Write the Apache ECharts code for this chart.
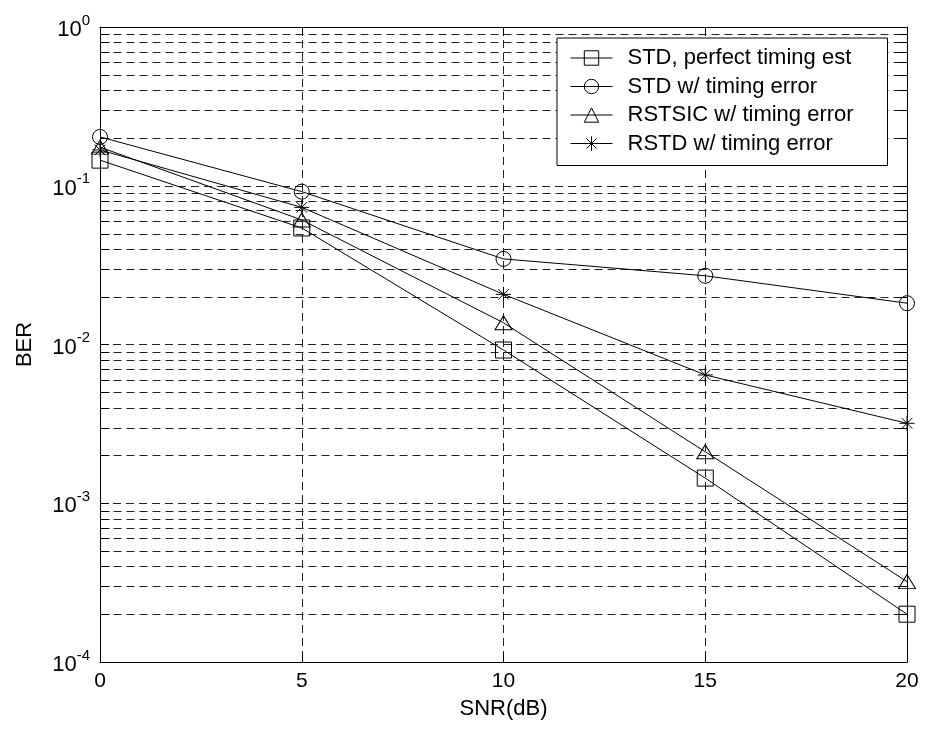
<!DOCTYPE html>
<html>
<head>
<meta charset="utf-8">
<script src="https://cdn.jsdelivr.net/npm/echarts@6/dist/echarts.min.js"></script>
<style>html,body{margin:0;padding:0;background:#fff}#c{width:925px;height:731px}</style>
</head>
<body>
<div id="c"></div>
<script>
var snr = [0, 5, 10, 15, 20];
var stdPerfect = [0.145, 0.0542, 0.00923, 0.00144, 0.0002];
var stdTimingErr = [0.203, 0.0918, 0.0346, 0.0271, 0.0182];
var rstsicTimingErr = [0.175, 0.0609, 0.0137, 0.00211, 0.000321];
var rstdTimingErr = [0.168, 0.0731, 0.0207, 0.00643, 0.00319];
var seriesNames = ['STD, perfect timing est', 'STD w/ timing error', 'RSTSIC w/ timing error', 'RSTD w/ timing error'];
var decades = [-4, -3, -2, -1];
var minorMultipliers = [2, 3, 4, 5, 6, 7, 8, 9];

var minorValues = [];
decades.forEach(function (d) { minorMultipliers.forEach(function (m) { minorValues.push(m * Math.pow(10, d)); }); });

var FONT = 'Liberation Sans, Arial, Helvetica, sans-serif';
var DASH = [8, 5];
var GRIDC = '#222';

function pairs(ys) { return snr.map(function (x, i) { return [x, ys[i]]; }); }

var starPath = 'path://M0,-10L0,10M-10,0L10,0M-7,-7L7,7M-7,7L7,-7';

function mkSeries(name, ys, symbol, size) {
  return {
    name: name, type: 'line', data: pairs(ys), symbol: symbol, symbolSize: size,
    xAxisIndex: 0, yAxisIndex: 0, z: 5,
    lineStyle: { color: '#000', width: 1 },
    itemStyle: { color: 'rgba(0,0,0,0)', borderColor: '#000', borderWidth: 1 },
    emphasis: { disabled: true }, animation: false
  };
}

var chart = echarts.init(document.getElementById('c'), null, { renderer: 'canvas' });
var tickStyle = { show: true, inside: true, length: 9, lineStyle: { color: '#000', width: 1 } };
var option = {
  backgroundColor: '#fff',
  animation: false,
  grid: { left: 100, top: 27, right: 18, bottom: 69, containLabel: false },
  legend: {
    data: seriesNames,
    orient: 'vertical',
    left: 557, top: 38,
    padding: [8, 10, 10, 13],
    itemGap: 4.5,
    itemWidth: 42, itemHeight: 18,
    backgroundColor: '#fff',
    borderColor: '#000', borderWidth: 1, borderRadius: 0,
    lineStyle: { color: '#000', width: 1 },
    itemStyle: { color: 'rgba(0,0,0,0)', borderColor: '#000', borderWidth: 1 },
    textStyle: { fontFamily: FONT, fontSize: 22, color: '#000', lineHeight: 24, width: 250, padding: [0, 0, 0, 10] },
    selectedMode: false
  },
  xAxis: [{
    type: 'value', min: 0, max: 20, interval: 5, position: 'bottom',
    name: 'SNR(dB)', nameLocation: 'middle', nameGap: 36,
    nameTextStyle: { fontFamily: FONT, fontSize: 22, color: '#000' },
    axisLine: { show: true, lineStyle: { color: '#000', width: 1 } },
    axisTick: tickStyle,
    axisLabel: { fontFamily: FONT, fontSize: 21, color: '#000', margin: 9 },
    splitLine: { show: true, lineStyle: { color: GRIDC, type: DASH, width: 1 } }
  }, {
    type: 'value', min: 0, max: 20, interval: 5, position: 'top',
    axisLine: { show: true, onZero: false, lineStyle: { color: '#000', width: 1 } },
    axisTick: tickStyle, axisLabel: { show: false }, splitLine: { show: false }
  }],
  yAxis: [{
    type: 'log', logBase: 10, min: 0.0001, max: 1, interval: 1, position: 'left',
    name: 'BER', nameLocation: 'middle', nameGap: 64,
    nameTextStyle: { fontFamily: FONT, fontSize: 22, color: '#000' },
    axisLine: { show: true, lineStyle: { color: '#000', width: 1 } },
    axisTick: tickStyle,
    axisLabel: {
      margin: 10, fontFamily: FONT, color: '#000',
      formatter: function (v) { return '{b|10}{s|' + Math.round(Math.log10(v)) + '}'; },
      rich: {
        b: { fontFamily: FONT, fontSize: 22, color: '#000', lineHeight: 28, verticalAlign: 'bottom' },
        s: { fontFamily: FONT, fontSize: 15, color: '#000', lineHeight: 28, verticalAlign: 'top' }
      }
    },
    splitLine: { show: true, lineStyle: { color: GRIDC, type: DASH, width: 1 } }
  }, {
    type: 'log', logBase: 10, min: 0.0001, max: 1, interval: 1, position: 'right',
    axisLine: { show: true, onZero: false, lineStyle: { color: '#000', width: 1 } },
    axisTick: tickStyle, axisLabel: { show: false }, splitLine: { show: false }
  }],
  series: [
    {
      type: 'custom', name: 'minorGrid', silent: true, z: 1, clip: false,
      xAxisIndex: 0, yAxisIndex: 0,
      data: minorValues.map(function (v) { return [0, v]; }),
      renderItem: function (params, api) {
        var p = api.coord([0, api.value(1)]);
        var cs = params.coordSys;
        var y = Math.round(p[1]) + 0.5;
        var x0 = Math.round(cs.x) + 0.5, x1 = Math.round(cs.x + cs.width) + 0.5;
        return {
          type: 'group', children: [
            { type: 'line', shape: { x1: x0, y1: y, x2: x1, y2: y }, style: { stroke: GRIDC, lineWidth: 1, lineDash: DASH } },
            { type: 'line', shape: { x1: x0, y1: y, x2: x0 + 9, y2: y }, style: { stroke: '#000', lineWidth: 1 } },
            { type: 'line', shape: { x1: x1 - 9, y1: y, x2: x1, y2: y }, style: { stroke: '#000', lineWidth: 1 } }
          ]
        };
      },
      animation: false
    },
    mkSeries(seriesNames[0], stdPerfect, 'rect', 16),
    mkSeries(seriesNames[1], stdTimingErr, 'circle', 15),
    mkSeries(seriesNames[2], rstsicTimingErr, 'triangle', [17, 14]),
    mkSeries(seriesNames[3], rstdTimingErr, starPath, 15)
  ]
};
chart.setOption(option);
</script>
</body>
</html>
